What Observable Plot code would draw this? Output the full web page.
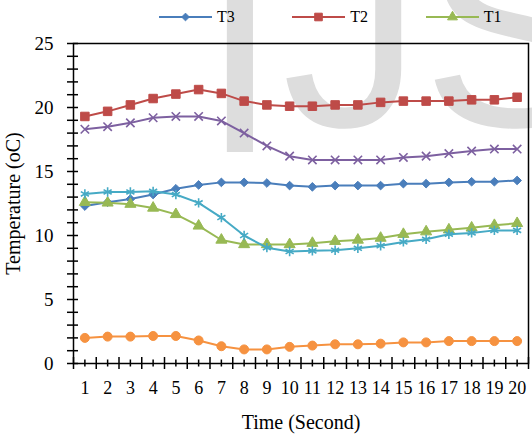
<!DOCTYPE html>
<html><head><meta charset="utf-8">
<script src="https://cdn.jsdelivr.net/npm/d3@7"></script>
<script src="https://cdn.jsdelivr.net/npm/@observablehq/plot@0.6"></script>
<style>
body{margin:0;background:#fff;}
#wrap{position:relative;width:532px;height:435px;overflow:hidden;font-family:"Liberation Serif","Times New Roman",serif;color:#000;}
#wm{position:absolute;left:0;top:0;}
#legend{position:absolute;left:0;top:0;width:532px;height:34px;display:flex;padding-left:159px;box-sizing:border-box;white-space:nowrap;overflow:hidden;}
.item{flex:0 0 133.33px;display:flex;align-items:center;height:34px;font-size:16px;}
.item svg{margin-right:5px;}
#chart{position:absolute;left:0;top:35px;}
#chart svg text{font-family:"Liberation Serif","Times New Roman",serif;}
</style></head><body>
<div id="wrap">
<svg id="wm" width="532" height="435"><g fill="#dddddd" font-family="Liberation Sans, Arial, sans-serif" font-size="280"><text x="201" y="152">I</text><text x="282" y="126">JS</text></g></svg>
<div id="legend"></div>
<div id="chart"></div>
</div>
<script>
// ---- data ----
const time = [1,2,3,4,5,6,7,8,9,10,11,12,13,14,15,16,17,18,19,20];
const seriesNames = ["T3","T2","T1","T4","T5","T6"];
const t3 = [12.3,12.6,12.85,13.2,13.65,13.95,14.15,14.15,14.1,13.9,13.8,13.9,13.9,13.9,14.05,14.05,14.15,14.2,14.2,14.3];
const t2 = [19.3,19.7,20.2,20.7,21.05,21.4,21.1,20.5,20.2,20.1,20.1,20.2,20.2,20.4,20.5,20.5,20.5,20.6,20.6,20.8];
const t1 = [12.6,12.55,12.45,12.15,11.65,10.75,9.65,9.3,9.3,9.3,9.4,9.55,9.65,9.8,10.1,10.3,10.45,10.6,10.8,10.95];
const t4 = [18.3,18.5,18.8,19.2,19.3,19.3,18.95,18.0,17.0,16.2,15.9,15.9,15.9,15.9,16.1,16.2,16.4,16.6,16.75,16.75];
const t5 = [13.25,13.4,13.4,13.45,13.2,12.55,11.4,10.0,9.05,8.75,8.8,8.85,9.0,9.2,9.5,9.7,10.1,10.2,10.4,10.4];
const t6 = [2.0,2.1,2.1,2.15,2.15,1.8,1.35,1.1,1.1,1.3,1.4,1.5,1.5,1.55,1.65,1.65,1.75,1.75,1.75,1.75];
const yMajorTicks = [0,5,10,15,20,25];
const yMinorTicks = [0,1,2,3,4,5,6,7,8,9,10,11,12,13,14,15,16,17,18,19,20,21,22,23,24,25];

// ---- style ----
const seriesValues = [t3,t2,t1,t4,t5,t6];
const colors = ["#4A7EBB","#BE4B48","#98B954","#7D60A0","#46AAC5","#F69240"];
const symbols = ["diamond2","square","triangle","times","asterisk","circle"];
const filled = [true,true,true,false,false,true];
const radii = [3.9,4.8,4.1,3.9,4.4,4.5];
const xBounds = time.map(t => t - 0.5).concat([time[time.length-1] + 0.5]);

const rows = seriesNames.flatMap((name,i) => time.map((t,j) => ({time:t, value:seriesValues[i][j], series:name})));

const marks = [];
seriesNames.forEach((name,i) => {
  const d = rows.filter(r => r.series === name);
  marks.push(Plot.line(d, {x:"time", y:"value", stroke:colors[i], strokeWidth:2}));
  marks.push(Plot.dot(d, {x:"time", y:"value", symbol:symbols[i], r:radii[i],
    fill: filled[i] ? colors[i] : "none", stroke: colors[i], strokeWidth: filled[i] ? 1 : 1.6}));
});

const serif = "Liberation Serif";
const chart = Plot.plot({
  width: 532, height: 400,
  marginTop: 8, marginBottom: 72, marginLeft: 73, marginRight: 4,
  style: {background:"transparent", fontFamily:serif, fontSize:"18px", color:"#000", overflow:"visible"},
  x: {type:"linear", domain:[0.5, 20.5]},
  y: {type:"linear", domain:[0, 25]},
  marks: [
    ...marks,
    Plot.frame({stroke:"#000", strokeWidth:1.5}),
    Plot.axisY(yMinorTicks, {anchor:"left", tickSize:11, dx:5, fill:"none", stroke:"#000", strokeWidth:1.5, label:null}),
    Plot.axisY(yMajorTicks, {anchor:"left", tickSize:0, tickPadding:20, fontSize:19, fontFamily:serif, fill:"#000",
      label:"Temperature (oC)", labelAnchor:"center", labelOffset:68, labelArrow:"none"}),
    Plot.axisX(xBounds, {anchor:"bottom", tickSize:12, dy:-6, fill:"none", stroke:"#000", strokeWidth:1.5, label:null}),
    Plot.axisX(time, {anchor:"bottom", tickSize:7, dy:-3.5, fill:"none", stroke:"#000", strokeWidth:1.5, label:null}),
    Plot.axisX(time, {anchor:"bottom", tickSize:0, tickPadding:18, fontSize:18, fontFamily:serif, fill:"#000", tickFormat: d => String(d),
      label:"Time (Second)", labelAnchor:"center", labelOffset:65.5, labelArrow:"none"})
  ]
});
// axis titles at 20px
chart.querySelectorAll("text").forEach(t => { if (/Temperature|Time/.test(t.textContent)) t.setAttribute("font-size", "20"); });
document.getElementById("chart").appendChild(chart);

// ---- legend ----
const legend = d3.select("#legend");
const symMap = {diamond2:d3.symbolDiamond2, square:d3.symbolSquare, triangle:d3.symbolTriangle, times:d3.symbolTimes, asterisk:d3.symbolAsterisk, circle:d3.symbolCircle};
seriesNames.forEach((name,i) => {
  const it = legend.append("div").attr("class","item");
  const s = it.append("svg").attr("width",53).attr("height",12);
  s.append("line").attr("x1",0).attr("x2",53).attr("y1",6).attr("y2",6).attr("stroke",colors[i]).attr("stroke-width",2);
  s.append("path").attr("transform","translate(26.5,6)")
    .attr("d", d3.symbol(symMap[symbols[i]], Math.PI*radii[i]*radii[i]*0.8)())
    .attr("fill", filled[i] ? colors[i] : "none").attr("stroke", colors[i]).attr("stroke-width", filled[i]?1:1.6);
  it.append("span").text(name);
});
</script>
</body></html>
